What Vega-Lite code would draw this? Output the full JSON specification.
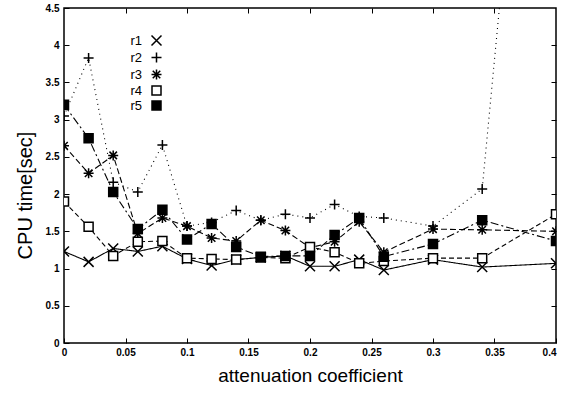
{
  "$schema": "https://vega.github.io/schema/vega-lite/v6.json",
  "width": 492,
  "height": 335,
  "autosize": {"type": "none"},
  "padding": {"left": 64, "top": 8, "right": 5, "bottom": 51},
  "background": "white",
  "config": {
    "view": {"stroke": "black", "strokeWidth": 1.5},
    "font": "Liberation Sans",
    "axis": {"labelFont": "Liberation Sans", "titleFont": "Liberation Sans", "labelColor": "black", "titleColor": "black", "tickColor": "black", "grid": false, "domain": false},
    "legend": {
      "orient": "none", "legendX": 86, "legendY": 26, "title": null, "padding": 0,
      "labelFont": "Liberation Sans", "labelFontSize": 13, "labelColor": "black",
      "labelAlign": "right", "labelOffset": -21, "symbolOffset": 0, "symbolSize": 100, "rowPadding": 0
    }
  },
  "data": {
    "values": [
      {"s": "r1", "x": 0, "v": 1.23}, {"s": "r1", "x": 0.02, "v": 1.09}, {"s": "r1", "x": 0.04, "v": 1.27}, {"s": "r1", "x": 0.06, "v": 1.23}, {"s": "r1", "x": 0.08, "v": 1.3}, {"s": "r1", "x": 0.1, "v": 1.13}, {"s": "r1", "x": 0.12, "v": 1.04}, {"s": "r1", "x": 0.14, "v": 1.12}, {"s": "r1", "x": 0.16, "v": 1.15}, {"s": "r1", "x": 0.18, "v": 1.17}, {"s": "r1", "x": 0.2, "v": 1.03}, {"s": "r1", "x": 0.22, "v": 1.03}, {"s": "r1", "x": 0.24, "v": 1.12}, {"s": "r1", "x": 0.26, "v": 0.98}, {"s": "r1", "x": 0.3, "v": 1.12}, {"s": "r1", "x": 0.34, "v": 1.02}, {"s": "r1", "x": 0.4, "v": 1.07},
      {"s": "r2", "x": 0, "v": 3.05}, {"s": "r2", "x": 0.02, "v": 3.83}, {"s": "r2", "x": 0.04, "v": 2.16}, {"s": "r2", "x": 0.06, "v": 2.03}, {"s": "r2", "x": 0.08, "v": 2.66}, {"s": "r2", "x": 0.1, "v": 1.57}, {"s": "r2", "x": 0.12, "v": 1.62}, {"s": "r2", "x": 0.14, "v": 1.78}, {"s": "r2", "x": 0.16, "v": 1.65}, {"s": "r2", "x": 0.18, "v": 1.73}, {"s": "r2", "x": 0.2, "v": 1.68}, {"s": "r2", "x": 0.22, "v": 1.86}, {"s": "r2", "x": 0.24, "v": 1.7}, {"s": "r2", "x": 0.26, "v": 1.68}, {"s": "r2", "x": 0.3, "v": 1.57}, {"s": "r2", "x": 0.34, "v": 2.07}, {"s": "r2", "x": 0.4, "v": 12.5},
      {"s": "r3", "x": 0, "v": 2.65}, {"s": "r3", "x": 0.02, "v": 2.28}, {"s": "r3", "x": 0.04, "v": 2.52}, {"s": "r3", "x": 0.06, "v": 1.47}, {"s": "r3", "x": 0.08, "v": 1.68}, {"s": "r3", "x": 0.1, "v": 1.57}, {"s": "r3", "x": 0.12, "v": 1.41}, {"s": "r3", "x": 0.14, "v": 1.37}, {"s": "r3", "x": 0.16, "v": 1.65}, {"s": "r3", "x": 0.18, "v": 1.51}, {"s": "r3", "x": 0.2, "v": 1.28}, {"s": "r3", "x": 0.22, "v": 1.36}, {"s": "r3", "x": 0.24, "v": 1.63}, {"s": "r3", "x": 0.26, "v": 1.22}, {"s": "r3", "x": 0.3, "v": 1.53}, {"s": "r3", "x": 0.34, "v": 1.52}, {"s": "r3", "x": 0.4, "v": 1.5},
      {"s": "r4", "x": 0, "v": 1.9}, {"s": "r4", "x": 0.02, "v": 1.56}, {"s": "r4", "x": 0.04, "v": 1.17}, {"s": "r4", "x": 0.06, "v": 1.36}, {"s": "r4", "x": 0.08, "v": 1.37}, {"s": "r4", "x": 0.1, "v": 1.14}, {"s": "r4", "x": 0.12, "v": 1.13}, {"s": "r4", "x": 0.14, "v": 1.12}, {"s": "r4", "x": 0.16, "v": 1.15}, {"s": "r4", "x": 0.18, "v": 1.14}, {"s": "r4", "x": 0.2, "v": 1.29}, {"s": "r4", "x": 0.22, "v": 1.22}, {"s": "r4", "x": 0.24, "v": 1.07}, {"s": "r4", "x": 0.26, "v": 1.1}, {"s": "r4", "x": 0.3, "v": 1.14}, {"s": "r4", "x": 0.34, "v": 1.14}, {"s": "r4", "x": 0.4, "v": 1.73},
      {"s": "r5", "x": 0, "v": 3.2}, {"s": "r5", "x": 0.02, "v": 2.75}, {"s": "r5", "x": 0.04, "v": 2.03}, {"s": "r5", "x": 0.06, "v": 1.53}, {"s": "r5", "x": 0.08, "v": 1.79}, {"s": "r5", "x": 0.1, "v": 1.39}, {"s": "r5", "x": 0.12, "v": 1.6}, {"s": "r5", "x": 0.14, "v": 1.29}, {"s": "r5", "x": 0.16, "v": 1.16}, {"s": "r5", "x": 0.18, "v": 1.17}, {"s": "r5", "x": 0.2, "v": 1.17}, {"s": "r5", "x": 0.22, "v": 1.45}, {"s": "r5", "x": 0.24, "v": 1.68}, {"s": "r5", "x": 0.26, "v": 1.16}, {"s": "r5", "x": 0.3, "v": 1.33}, {"s": "r5", "x": 0.34, "v": 1.65}, {"s": "r5", "x": 0.4, "v": 1.37}
    ]
  },
  "resolve": {"axis": {"x": "independent", "y": "independent"}},
  "layer": [
    {
      "mark": {"type": "line", "clip": true, "stroke": "black", "strokeWidth": 1.1},
      "encoding": {
        "x": {"field": "x", "type": "quantitative", "scale": {"domain": [0, 0.4], "nice": false, "zero": false},
          "axis": {"orient": "bottom", "values": [0, 0.05, 0.1, 0.15, 0.2, 0.25, 0.3, 0.35, 0.4], "format": ".2~f", "tickSize": -5, "labelPadding": 9, "labelFontSize": 10, "labelFontWeight": "bold", "labelAlign": {"expr": "datum.value >= 0.39 ? 'right' : 'center'"}, "title": "attenuation coefficient", "titleFontSize": 19, "titleFontWeight": "normal", "titlePadding": 9, "labelFlush": false}},
        "y": {"field": "v", "type": "quantitative", "scale": {"domain": [0, 4.5], "nice": false},
          "axis": {"orient": "left", "values": [0, 0.5, 1, 1.5, 2, 2.5, 3, 3.5, 4, 4.5], "format": ".1~f", "tickSize": -5, "labelPadding": 10, "labelFontSize": 10, "labelFontWeight": "bold", "title": "CPU time[sec]", "titleFontSize": 20, "titleFontWeight": "normal", "titlePadding": 10, "titleY": 187}},
        "detail": {"field": "s"},
        "strokeDash": {"field": "s", "type": "nominal", "legend": null,
          "scale": {"range": [[1, 0], [1, 4], [6, 3], [5, 3], [8, 3, 2, 3]]}}
      }
    },
    {
      "mark": {"type": "point", "clip": true, "filled": true, "stroke": "black", "strokeWidth": 1.5, "opacity": 1, "size": 100},
      "encoding": {
        "x": {"field": "x", "type": "quantitative",
          "axis": {"orient": "top", "values": [0.05, 0.1, 0.15, 0.2, 0.25, 0.3, 0.35], "tickSize": -5, "labels": false, "title": null}},
        "y": {"field": "v", "type": "quantitative",
          "axis": {"orient": "right", "values": [0.5, 1, 1.5, 2, 2.5, 3, 3.5, 4], "tickSize": -5, "labels": false, "title": null}},
        "fill": {"field": "s", "type": "nominal",
          "scale": {"domain": ["r1", "r2", "r3", "r4", "r5"], "range": ["black", "black", "black", "white", "black"]}},
        "shape": {"field": "s", "type": "nominal",
          "scale": {"domain": ["r1", "r2", "r3", "r4", "r5"], "range": [
            "M-1,-1L1,1M-1,1L1,-1",
            "M-1,0L1,0M0,-1L0,1",
            "M-1,0L1,0M0,-1L0,1M-0.75,-0.75L0.75,0.75M-0.75,0.75L0.75,-0.75",
            "M-0.9,-0.9L0.9,-0.9L0.9,0.9L-0.9,0.9Z",
            "M-0.9,-0.9L0.9,-0.9L0.9,0.9L-0.9,0.9Z"]}}
      }
    }
  ]
}
